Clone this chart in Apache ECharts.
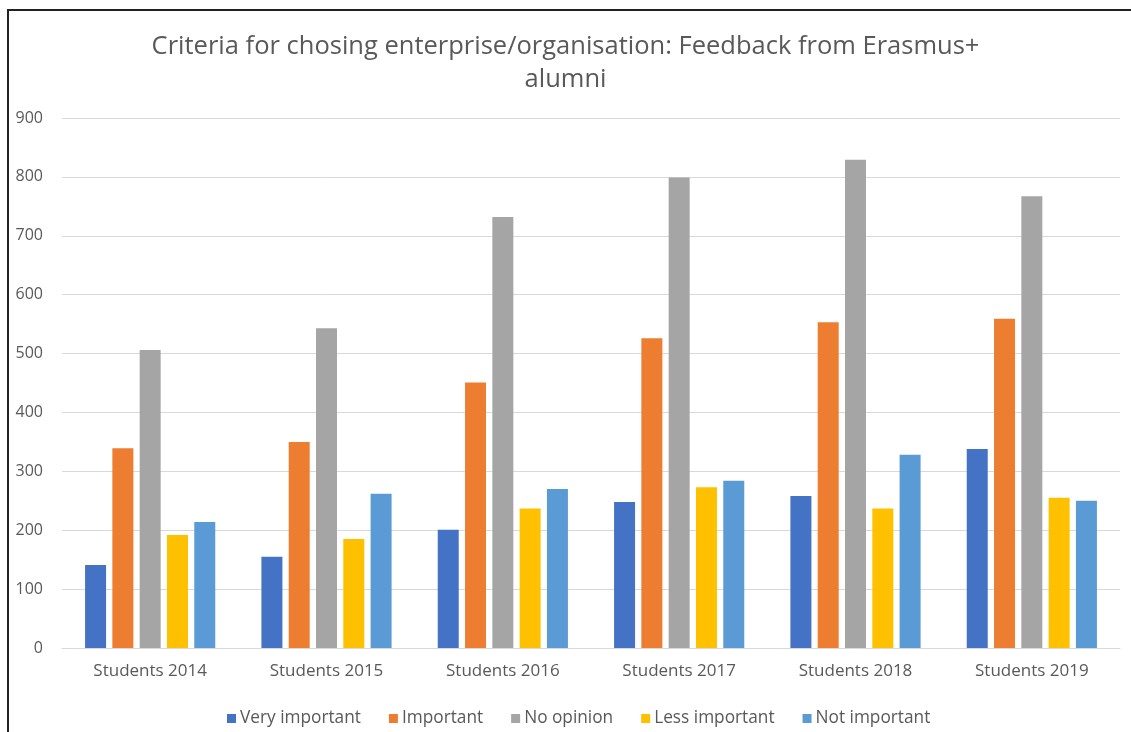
<!DOCTYPE html>
<html>
<head>
<meta charset="utf-8">
<script src="https://cdn.jsdelivr.net/npm/echarts@6/dist/echarts.min.js"></script>
<style>
html,body{margin:0;padding:0;background:#fff;}
#chart{width:1131px;height:732px;}
</style>
</head>
<body>
<div id="chart"></div>
<script>
var titleText = 'Criteria for chosing enterprise/organisation: Feedback from Erasmus+\nalumni';
var categories = ['Students 2014','Students 2015','Students 2016','Students 2017','Students 2018','Students 2019'];
var seriesNames = ['Very important','Important','No opinion','Less important','Not important'];
var veryImportant = [141, 155, 201, 248, 258, 338];
var important = [339, 350, 451, 526, 553, 559];
var noOpinion = [506, 543, 732, 799, 829, 767];
var lessImportant = [192, 185, 237, 273, 237, 255];
var notImportant = [214, 262, 270, 284, 328, 250];
var yTicks = [0, 100, 200, 300, 400, 500, 600, 700, 800, 900];
var colors = ['#4472C4','#ED7D31','#A5A5A5','#FFC000','#5B9BD5'];

var values = [veryImportant, important, noOpinion, lessImportant, notImportant];
var chart = echarts.init(document.getElementById('chart'), null, {renderer:'canvas'});
var font = '"Open Sans", sans-serif';
var series = seriesNames.map(function(n, i){
  return {
    name: n, type: 'bar', data: values[i], barWidth: 21, barGap: '30%',
    itemStyle: {color: colors[i]}
  };
});
chart.setOption({
  backgroundColor: '#fff',
  animation: false,
  color: colors,
  title: {
    text: titleText, left: 'center', top: 25,
    textStyle: {fontFamily: font, fontSize: 25.5, fontWeight: 'normal', color: '#595959', lineHeight: 33}
  },
  legend: {
    data: seriesNames, top: 705, left: 222,
    itemWidth: 9, itemHeight: 9, itemGap: 28, icon: 'rect',
    textStyle: {fontFamily: font, fontSize: 17.25, color: '#595959', padding: [0,0,0,-1]}
  },
  grid: {left: 62, right: 11, top: 118, bottom: 84, containLabel: false},
  xAxis: {
    type: 'category', data: categories,
    axisLine: {lineStyle: {color: '#D9D9D9', width: 1}},
    axisTick: {show: false},
    axisLabel: {fontFamily: font, fontSize: 17, color: '#595959', margin: 15}
  },
  yAxis: {
    type: 'value', min: yTicks[0], max: yTicks[yTicks.length-1], interval: 100,
    axisLine: {show: false}, axisTick: {show: false},
    splitLine: {lineStyle: {color: '#D9D9D9', width: 1}},
    axisLabel: {fontFamily: font, fontSize: 16, color: '#595959', margin: 19}
  },
  graphic: [{
    type: 'rect', shape: {x: 8, y: 10, width: 1200, height: 800},
    style: {fill: 'none', stroke: '#222', lineWidth: 2}, silent: true, z: 100
  }],
  series: series
});
</script>
</body>
</html>
